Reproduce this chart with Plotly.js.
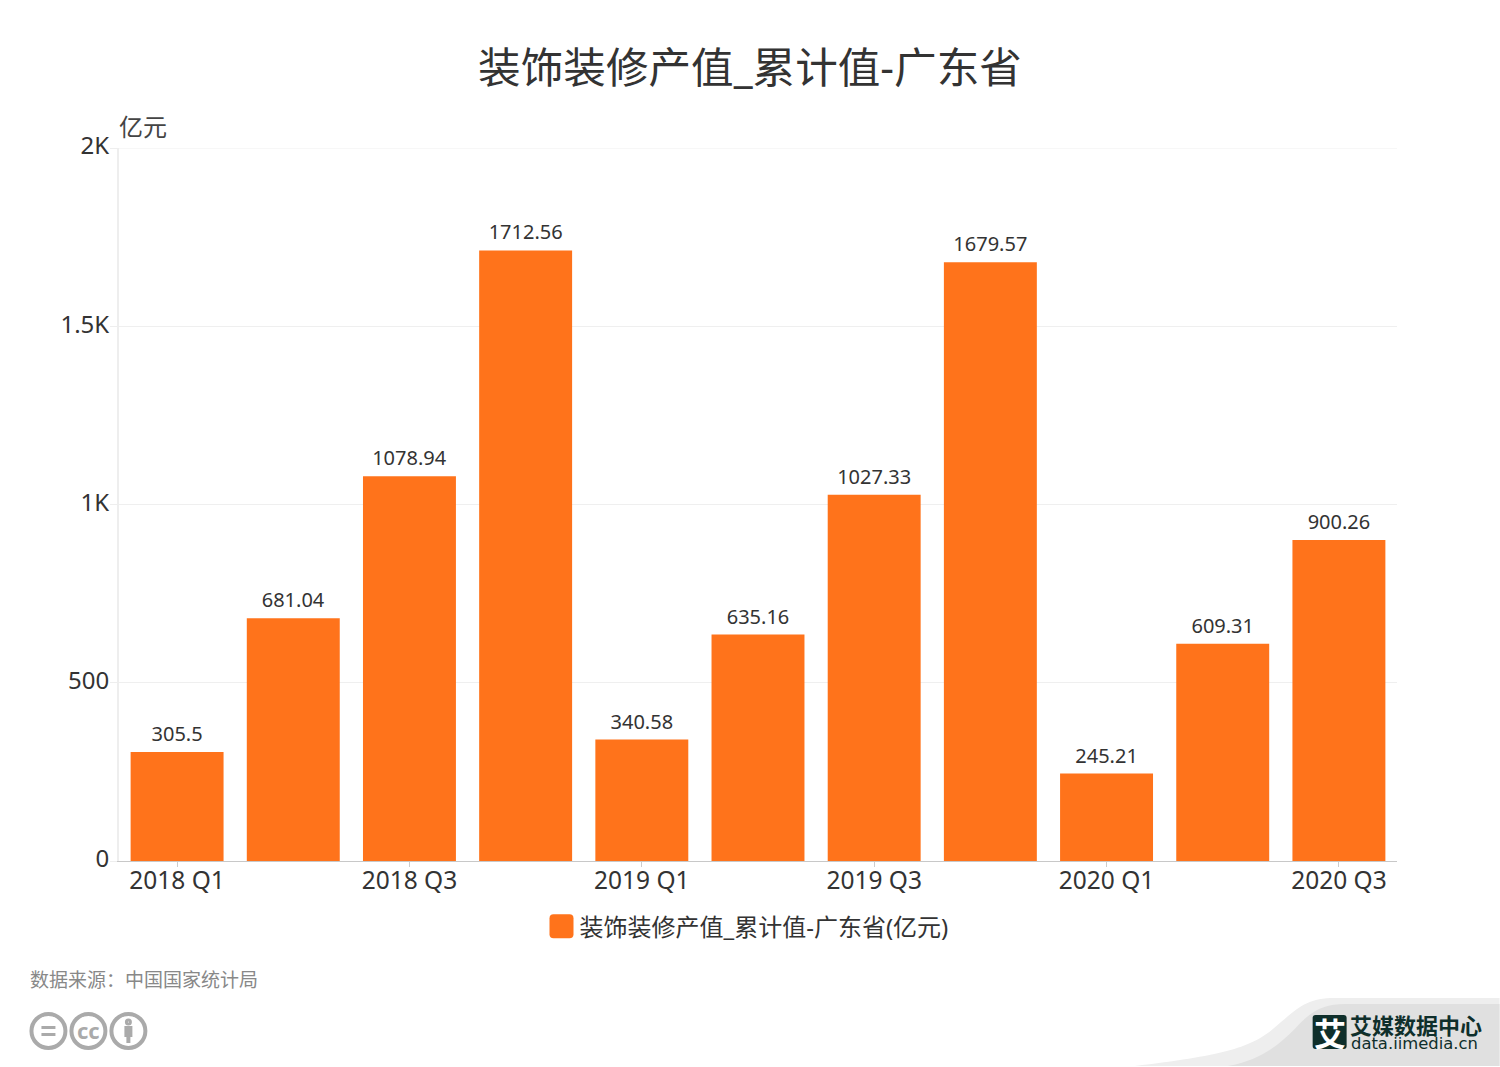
<!DOCTYPE html>
<html>
<head>
<meta charset="utf-8">
<script src="https://cdn.plot.ly/plotly-3.0.1.min.js"></script>
<style>
  html, body { margin: 0; padding: 0; background: #fff; }
</style>
</head>
<body>
<div id="chart" style="width:1500px;height:1067px"></div>
<script>
const quarters = ['2018 Q1', '2018 Q2', '2018 Q3', '2018 Q4', '2019 Q1', '2019 Q2',
  '2019 Q3', '2019 Q4', '2020 Q1', '2020 Q2', '2020 Q3'];
const values = [305.5, 681.04, 1078.94, 1712.56, 340.58, 635.16, 1027.33, 1679.57, 245.21, 609.31, 900.26];
const shownQuarters = ['2018 Q1', '2018 Q3', '2019 Q1', '2019 Q3', '2020 Q1', '2020 Q3'];
const yTicks = [0, 500, 1000, 1500, 2000];
const yTickLabels = ['0', '500', '1K', '1.5K', '2K'];
const seriesName = '装饰装修产值_累计值-广东省(亿元)';
const chartTitle = '装饰装修产值_累计值-广东省';
const yUnit = '亿元';
const sourceText = '数据来源：中国国家统计局';

const W = 1500, H = 1067;
const M = { l: 118.6, r: 102.6, t: 148, b: 206 };
const FONT = '"Noto Sans", "Noto Sans CJK SC", sans-serif';

// page pixels -> paper coordinates, for the decoration around the plot
const px = x => (x - M.l) / (W - M.l - M.r);
const py = y => (H - M.b - y) / (H - M.t - M.b);
const path = pts => pts.map(p => typeof p === 'string' ? p : px(p[0]) + ',' + py(p[1])).join(' ');

function circle(cx, cy, r) {
  return {
    type: 'circle', xref: 'paper', yref: 'paper',
    x0: px(cx - r), x1: px(cx + r), y0: py(cy + r), y1: py(cy - r),
    line: { color: '#aaaaaa', width: 4 }, fillcolor: 'rgba(0,0,0,0)'
  };
}
function box(x0, y0, x1, y1, color) {
  return {
    type: 'rect', xref: 'paper', yref: 'paper',
    x0: px(x0), x1: px(x1), y0: py(y1), y1: py(y0),
    line: { width: 0 }, fillcolor: color
  };
}
function note(text, x, y, size, color, anchor, extra) {
  return Object.assign({
    text: text, xref: 'paper', yref: 'paper', x: px(x), y: py(y),
    xanchor: anchor || 'left', yanchor: 'middle', showarrow: false,
    font: { family: FONT, size: size, color: color }
  }, extra || {});
}

const shapes = [
  // plotly drops the gridline on the top edge, so it goes in by hand
  { type: 'line', xref: 'paper', yref: 'y', x0: 0, x1: 1, y0: 2000, y1: 2000,
    line: { color: '#efefef', width: 1 }, layer: 'below' },
  // corner swoosh
  { type: 'path', xref: 'paper', yref: 'paper', line: { width: 0 }, fillcolor: '#eeeeee',
    path: path(['M', [1135, 1066], 'C', [1220, 1056], [1250, 1048], [1272, 1030], 'C', [1296, 1010], [1305, 998], [1335, 998], 'L', [1500, 998], 'L', [1500, 1066], 'Z']) },
  { type: 'path', xref: 'paper', yref: 'paper', line: { width: 0 }, fillcolor: '#e0e0e0',
    path: path(['M', [1228, 1066], 'C', [1262, 1060], [1280, 1044], [1296, 1028], 'C', [1312, 1010], [1325, 1004], [1345, 1004], 'L', [1500, 1004], 'L', [1500, 1066], 'Z']) },
  // logo square
  { type: 'path', xref: 'paper', yref: 'paper', line: { width: 0 }, fillcolor: '#0f2f2b',
    path: path(['M', [1316, 1015], 'L', [1344, 1015], 'Q', [1347, 1015], [1347, 1018], 'L', [1347, 1046], 'Q', [1347, 1049], [1344, 1049], 'L', [1316, 1049], 'Q', [1313, 1049], [1313, 1046], 'L', [1313, 1018], 'Q', [1313, 1015], [1316, 1015], 'Z']) },
  // licence icons
  circle(48, 1031, 17), circle(88, 1031, 17), circle(128, 1031, 17),
  box(41, 1026, 55, 1029, '#aaaaaa'), box(41, 1033, 55, 1036, '#aaaaaa'),
  circle(128, 1022, 1.5),
  box(124, 1026, 132, 1037, '#aaaaaa'), box(126, 1037, 130, 1043, '#aaaaaa')
];

const annotations = [
  note(yUnit, 116.5, 126, 24, '#444444'),
  note(sourceText, 28, 980, 19, '#888888'),
  note('cc', 88, 1030, 22, '#aaaaaa', 'center', { font: { family: FONT, size: 22, color: '#aaaaaa', weight: 700 } }),
  note('艾', 1330, 1032, 32, '#ffffff', 'center', { font: { family: '"Noto Sans CJK SC"', size: 32, color: '#ffffff', weight: 700 } }),
  note('艾媒数据中心', 1348, 1024, 22, '#0f2f2b', 'left', { font: { family: '"Noto Sans CJK SC"', size: 22, color: '#0f2f2b', weight: 700 } }),
  note('data.iimedia.cn', 1349, 1043, 16.4, '#0f2f2b', 'left', { font: { family: '"DejaVu Sans"', size: 16.4, color: '#0f2f2b' } })
];

const trace = {
  type: 'bar',
  x: quarters,
  y: values,
  name: seriesName,
  text: values.map(String),
  textposition: 'outside',
  cliponaxis: false,
  textfont: { family: FONT, size: 20, color: '#333333' },
  marker: { color: '#ff731b' },
  hoverinfo: 'x+y'
};

const layout = {
  width: W, height: H,
  margin: M,
  paper_bgcolor: '#ffffff',
  plot_bgcolor: '#ffffff',
  font: { family: FONT, color: '#333333' },
  bargap: 0.2,
  title: {
    text: chartTitle, x: 0.5, xanchor: 'center', y: 0.9365, yanchor: 'middle',
    font: { family: FONT, size: 42.6, color: '#333333' }
  },
  xaxis: {
    type: 'category',
    categoryorder: 'array', categoryarray: quarters,
    tickmode: 'array', tickvals: shownQuarters, ticktext: shownQuarters,
    ticks: 'outside', ticklen: 5, tickcolor: '#cccccc', tickwidth: 1,
    showline: true, linecolor: '#c8c8c8', linewidth: 1,
    showgrid: false,
    tickfont: { family: FONT, size: 24.5, color: '#333333' },
    ticklabelstandoff: -7
  },
  yaxis: {
    range: [0, 2000],
    tickmode: 'array', tickvals: yTicks, ticktext: yTickLabels,
    ticks: 'outside', ticklen: 7, tickcolor: '#eeeeee', tickwidth: 1,
    showline: true, linecolor: '#eeeeee', linewidth: 2,
    gridcolor: '#efefef', gridwidth: 1,
    zeroline: false,
    tickfont: { family: FONT, size: 24, color: '#333333' },
    ticklabelshift: -2,
    ticklabelstandoff: -4
  },
  showlegend: true,
  legend: {
    orientation: 'h', x: 0.4910, xanchor: 'center', y: -0.0920, yanchor: 'middle',
    font: { family: FONT, size: 24, color: '#333333' },
    itemclick: false, itemdoubleclick: false
  },
  shapes: shapes,
  annotations: annotations
};

Plotly.newPlot('chart', [trace], layout, { displayModeBar: false }).then(() => {
  // legend swatch in the reference is a big rounded square
  document.querySelectorAll('.legendbar path, .legendpoints path').forEach(p => {
    p.setAttribute('d', 'M-6,-12H10Q14,-12 14,-8V8Q14,12 10,12H-6Q-10,12 -10,8V-8Q-10,-12 -6,-12Z');
  });
  // value labels sit a little higher above the bars
  document.querySelectorAll('.bartext').forEach(t => {
    t.setAttribute('transform', 'translate(0,-2) ' + (t.getAttribute('transform') || ''));
  });
});
</script>
</body>
</html>
